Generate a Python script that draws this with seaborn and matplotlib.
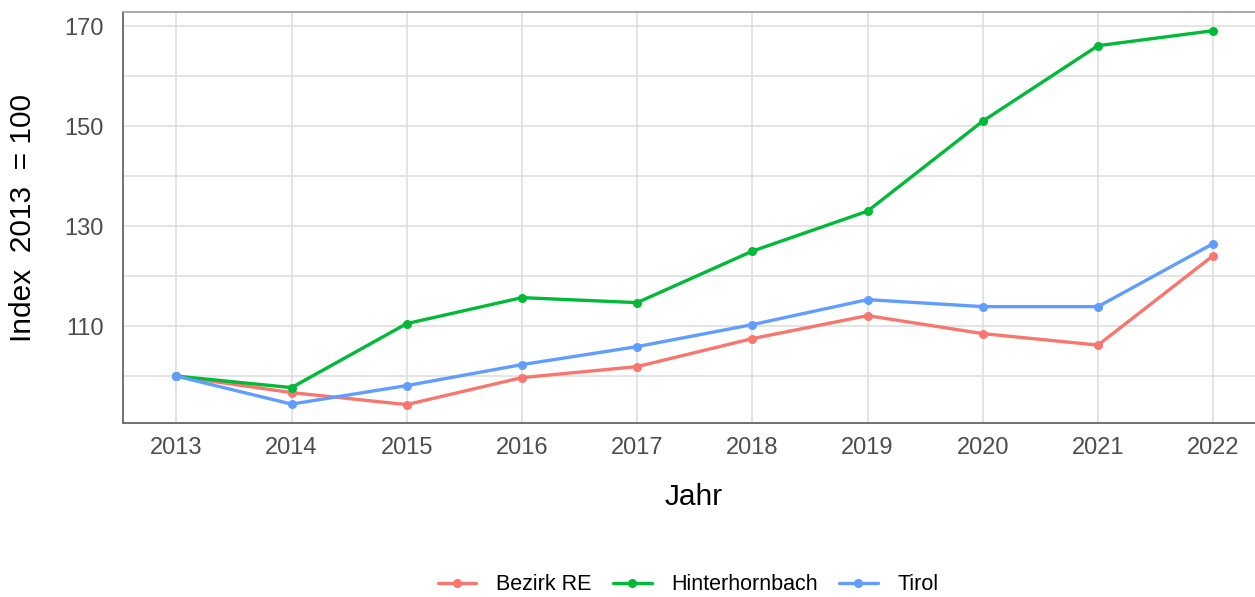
import matplotlib
matplotlib.use("Agg")
import matplotlib.pyplot as plt
import seaborn as sns
import pandas as pd

years = [2013, 2014, 2015, 2016, 2017, 2018, 2019, 2020, 2021, 2022]
bezirk_re = [100, 96.7, 94.3, 99.7, 101.9, 107.5, 112.1, 108.5, 106.2, 124.1]
hinterhornbach = [100, 97.7, 110.5, 115.7, 114.7, 125.0, 133.0, 151.0, 166.1, 169.1]
tirol = [100, 94.4, 98.1, 102.3, 105.9, 110.3, 115.3, 113.9, 113.9, 126.5]
series_names = ["Bezirk RE", "Hinterhornbach", "Tirol"]
colors = ["#F8766D", "#00BA38", "#619CFF"]
y_major = [110, 130, 150, 170]
y_minor = [100, 120, 140, 160]

df = pd.DataFrame({
    "Jahr": years * 3,
    "Index": bezirk_re + hinterhornbach + tirol,
    "Gebiet": [series_names[0]] * len(years) + [series_names[1]] * len(years) + [series_names[2]] * len(years),
})

sns.set_theme(style="white")
plt.rcParams["font.family"] = ["Liberation Sans", "DejaVu Sans"]

fig = plt.figure(figsize=(12.55, 5.97), dpi=100)
ax = fig.add_axes([123.3 / 1255, 1 - 423.3 / 597, (1265 - 123.3) / 1255, (423.3 - 12) / 597])

sns.lineplot(data=df, x="Jahr", y="Index", hue="Gebiet", hue_order=series_names,
             palette=colors, marker="o", markersize=6.5, markeredgewidth=0,
             linewidth=2.4, ax=ax, legend=True, zorder=3)

ax.set_xlim(2013 - 0.46, 2022 + 0.45)
ax.set_ylim(90.56, 172.84)
ax.set_xticks(years)
ax.set_xticklabels([str(y) for y in years])
ax.set_yticks(y_major)
ax.set_yticks(y_minor, minor=True)

grid_col = "#DCDCDC"
ax.grid(True, which="major", axis="both", color=grid_col, linewidth=1.1, zorder=0)
ax.grid(True, which="minor", axis="y", color=grid_col, linewidth=1.1, zorder=0)
ax.set_axisbelow(True)

for side in ["left", "bottom"]:
    ax.spines[side].set_color("#666666")
    ax.spines[side].set_linewidth(1.3)
for side in ["top", "right"]:
    ax.spines[side].set_color("#A0A0A0")
    ax.spines[side].set_linewidth(1.3)

ax.tick_params(axis="both", which="major", length=5, width=1.1, color="#555555",
               labelsize=17, labelcolor="#4D4D4D", direction="out")
ax.tick_params(axis="y", which="major", pad=9)
ax.tick_params(axis="x", which="major", pad=5)
ax.tick_params(which="minor", length=0)

ax.set_xlabel("Jahr", fontsize=21.5, color="black")
ax.set_ylabel("Index  2013  = 100", fontsize=21.5, color="black")
ax.xaxis.label.set_va("center")
ax.yaxis.label.set_va("center")
ax.xaxis.set_label_coords(0.5, (423.3 - 497) / (423.3 - 12))
ax.yaxis.set_label_coords((23 - 123.3) / (1265 - 123.3), 0.5)

handles, labels = ax.get_legend_handles_labels()
ax.get_legend().remove()
leg = fig.legend(handles, labels, loc="center", bbox_to_anchor=(688 / 1255, 1 - 585 / 597),
                 ncol=3, frameon=False, fontsize=15.5, handlelength=1.8,
                 handletextpad=0.9, columnspacing=1.0)
for t in leg.get_texts():
    t.set_color("black")

fig.savefig("out.png", dpi=100)
